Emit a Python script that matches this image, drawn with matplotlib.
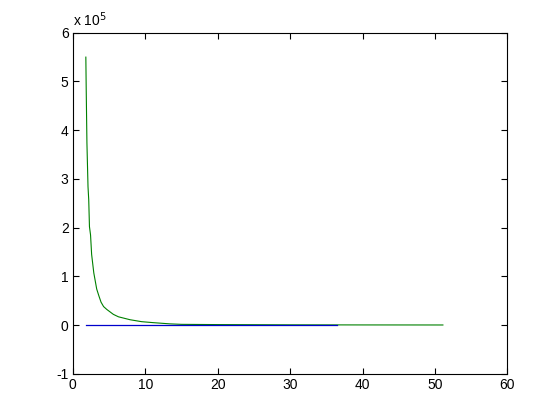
import matplotlib
matplotlib.use('Agg')
import matplotlib.pyplot as plt
from matplotlib.ticker import FuncFormatter

# values, y in units of 1e5
green_x = [1.8, 1.85, 1.95, 2.1, 2.2, 2.3, 2.45, 2.6, 2.9, 3.3, 3.6, 3.9, 4.25, 4.7,
           5.6, 6.3, 7.9, 9.5, 11.1, 13.4, 15, 20, 30, 40, 51.1]
green_y = [5.5, 4.86, 3.74, 2.84, 2.57, 2.02, 1.85, 1.45, 1.07, 0.74, 0.6, 0.47, 0.38, 0.32,
           0.22, 0.17, 0.11, 0.07, 0.05, 0.025, 0.015, 0.01, 0.005, 0.003, 0.002]
blue_x = [1.8, 36.5]
blue_y = [0, 0]

scale = 1e5
x_ticks = [0, 10, 20, 30, 40, 50, 60]
y_ticks = [-1, 0, 1, 2, 3, 4, 5, 6]

plt.rcParams['font.family'] = ['Liberation Sans', 'DejaVu Sans']

fig = plt.figure(figsize=(5.6, 4.2), dpi=100)
ax = fig.add_axes([0.13, 0.11, 0.776, 0.812])

ax.plot(green_x, [v * scale for v in green_y], color=(0, 0.5, 0), lw=0.8)
# blue sits on top of the green tail
ax.plot(blue_x, [v * scale for v in blue_y], color=(0, 0, 0.8), lw=0.9, zorder=3)

ax.set_xlim(0, 60)
ax.set_ylim(-1 * scale, 6 * scale)
ax.set_xticks(x_ticks)
ax.set_yticks([v * scale for v in y_ticks])
ax.yaxis.set_major_formatter(FuncFormatter(lambda v, p: '%g' % (v / scale)))

# matlab look: ticks inside on every side
ax.tick_params(direction='in', top=True, right=True, length=4, width=0.8,
               labelsize=10, pad=3)
for s in ax.spines.values():
    s.set_linewidth(0.8)

ax.text(0, 1.012, r'x 10$^{5}$', transform=ax.transAxes, ha='left', va='bottom',
        fontsize=10)

fig.savefig('out.png')
